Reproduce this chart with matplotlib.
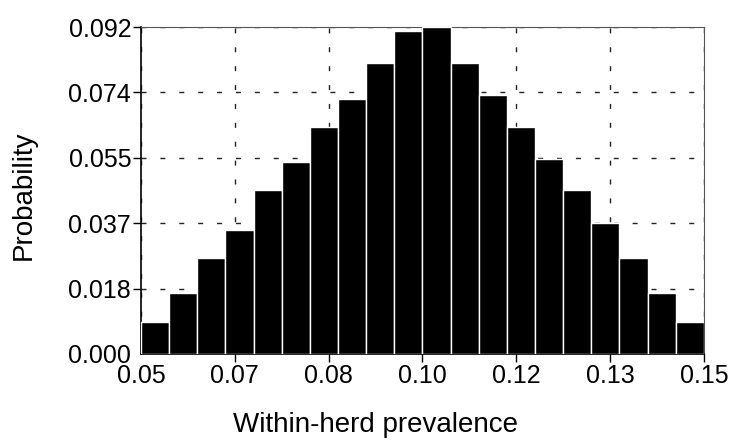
import numpy as np
import matplotlib
matplotlib.use("Agg")
import matplotlib.pyplot as plt

plt.rcParams['font.family'] = ['Liberation Sans', 'DejaVu Sans']

bin_left = [0.050, 0.055, 0.060, 0.065, 0.070, 0.075, 0.080, 0.085, 0.090, 0.095,
            0.100, 0.105, 0.110, 0.115, 0.120, 0.125, 0.130, 0.135, 0.140, 0.145]
probability = [0.0090, 0.0171, 0.0270, 0.0349, 0.0461, 0.0540, 0.0641, 0.0720, 0.0821, 0.0911,
               0.0922, 0.0821, 0.0731, 0.0641, 0.0551, 0.0461, 0.0369, 0.0270, 0.0171, 0.0090]
bin_width = 0.005

x_min, x_max = 0.05, 0.15
y_max = 0.0922
x_ticks = np.linspace(x_min, x_max, 7)
y_ticks = np.linspace(0, y_max, 6)

fig = plt.figure(figsize=(7.34, 4.43), dpi=100)
ax = fig.add_axes([0.192, 0.201, 0.767, 0.738])

ax.bar(bin_left, probability, width=bin_width, align='edge', color='black',
       edgecolor='white', linewidth=1.0, zorder=3)

ax.set_xlim(x_min, x_max)
ax.set_ylim(0, y_max)
ax.set_xticks(x_ticks)
ax.set_yticks(y_ticks)
ax.set_xticklabels([f"{v:.2f}" for v in x_ticks])
ax.set_yticklabels([f"{v:.3f}" for v in y_ticks])

ax.grid(True, color='#222222', linestyle=(0, (3.6, 10)), linewidth=1.0, zorder=0)
ax.set_axisbelow(True)

ax.tick_params(axis='both', direction='out', length=6, width=1, labelsize=18, colors='black')
ax.tick_params(axis='x', pad=1)
ax.tick_params(axis='y', pad=1)
ax.xaxis.get_major_ticks()[0].tick1line.set_visible(False)
ax.yaxis.get_major_ticks()[0].tick1line.set_visible(False)

for s in ['left', 'bottom']:
    ax.spines[s].set_color('black')
    ax.spines[s].set_linewidth(1.2)
for s in ['top', 'right']:
    ax.spines[s].set_color('#555555')
    ax.spines[s].set_linewidth(0.8)

ax.set_xlabel('Within-herd prevalence', fontsize=20)
ax.set_ylabel('Probability', fontsize=20)
ax.xaxis.set_label_coords(0.417, -0.178)
ax.yaxis.set_label_coords(-0.185, 0.486)

fig.savefig('out.png', dpi=100)
